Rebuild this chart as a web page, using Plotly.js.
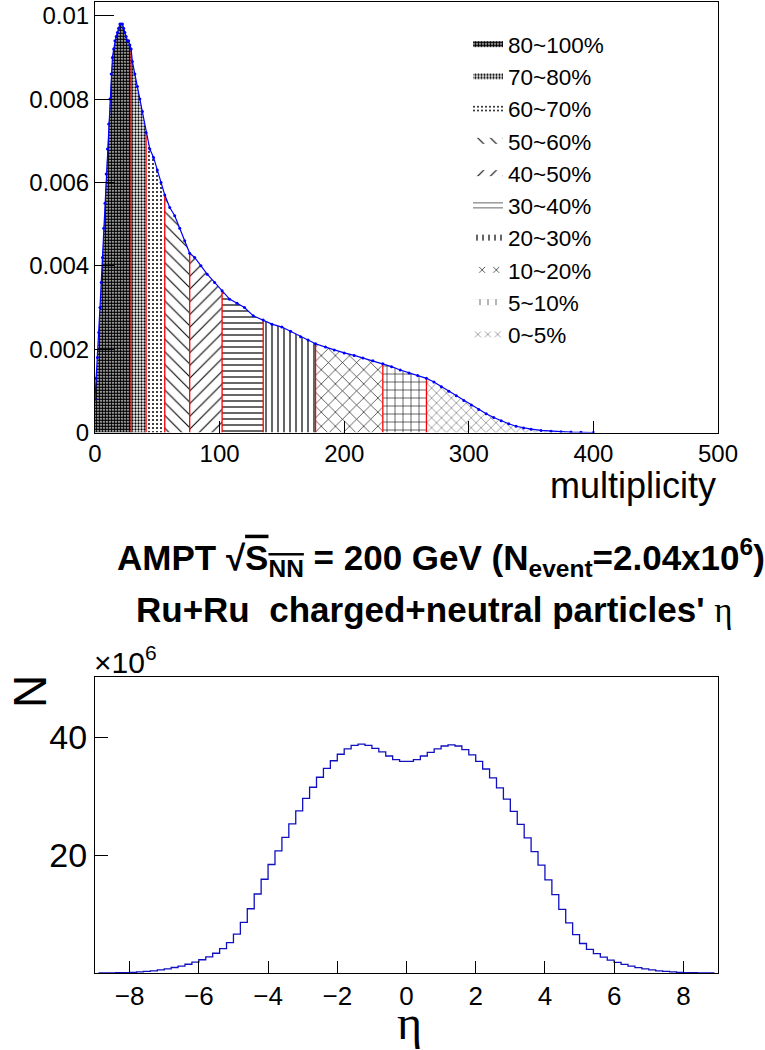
<!DOCTYPE html>
<html>
<head>
<meta charset="utf-8">
<script src="https://cdn.plot.ly/plotly-3.0.1.min.js"></script>
<style>html,body{margin:0;padding:0;background:#fff;}#chart{width:765px;height:1050px;}</style>
</head>
<body>
<div id="chart"></div>
<script>
// ---- Top panel: multiplicity distribution (normalized) ----
const mult = [0,1,2,3,4,5,6,7,8,9,10,11,12,13,14,15,16,17,18,19,20,21,22,23,24,25,26,27,28,29,30,32,34,36,38,41,44,47,50,53,56,60,64,68,72,76,80,85,90,96,102,108,114,120,127,135,142,150,157,165,171,177,185,192,200,208,215,223,231,238,245,252,259,266,272,278,284,290,296,302,308,314,320,326,332,338,344,350,358,366,374,382,390,400];
const dens = [0.0008,0.0013,0.0018,0.0024,0.0030,0.0036,0.0042,0.0049,0.0055,0.0062,0.0068,0.0074,0.0080,0.0086,0.0090,0.0092,0.0094,0.0095,0.0096,0.0097,0.0098,0.0098,0.0098,0.0097,0.0096,0.0095,0.0094,0.0094,0.0093,0.0092,0.0089,0.0086,0.0083,0.0080,0.0077,0.0072,0.0068,0.0066,0.0063,0.0060,0.0057,0.0054,0.0052,0.0049,0.0046,0.0043,0.0042,0.0040,0.0038,0.0036,0.0034,0.0032,0.0031,0.0030,0.0028,0.0027,0.0026,0.00253,0.00243,0.00230,0.00222,0.00213,0.00205,0.00198,0.00191,0.00185,0.00179,0.00172,0.00165,0.00158,0.00150,0.00143,0.00137,0.00130,0.00121,0.00110,0.00099,0.00088,0.00077,0.00066,0.00055,0.00045,0.00036,0.00028,0.00021,0.00015,0.00011,0.00008,0.00005,0.00003,0.00002,0.00001,0.000005,0];
const classLabels = ['80~100%','70~80%','60~70%','50~60%','40~50%','30~40%','20~30%','10~20%','5~10%','0~5%'];
const classEdges = [0,29,41,56,76,102,135,177,231,266,400];
const multTicks = [0,100,200,300,400,500];
const densTicks = [0,0.002,0.004,0.006,0.008,0.01];
const densTickText = ['0','0.002','0.004','0.006','0.008','0.01'];

// ---- Bottom panel: eta distribution (x10^6) ----
const etaCenters = [-8.9,-8.7,-8.5,-8.3,-8.1,-7.9,-7.7,-7.5,-7.3,-7.1,-6.9,-6.7,-6.5,-6.3,-6.1,-5.9,-5.7,-5.5,-5.3,-5.1,-4.9,-4.7,-4.5,-4.3,-4.1,-3.9,-3.7,-3.5,-3.3,-3.1,-2.9,-2.7,-2.5,-2.3,-2.1,-1.9,-1.7,-1.5,-1.3,-1.1,-0.9,-0.7,-0.5,-0.3,-0.1,0.1,0.3,0.5,0.7,0.9,1.1,1.3,1.5,1.7,1.9,2.1,2.3,2.5,2.7,2.9,3.1,3.3,3.5,3.7,3.9,4.1,4.3,4.5,4.7,4.9,5.1,5.3,5.5,5.7,5.9,6.1,6.3,6.5,6.7,6.9,7.1,7.3,7.5,7.7,7.9,8.1,8.3,8.5,8.7,8.9];
const etaCounts = [0.01,0.02,0.03,0.05,0.08,0.12,0.18,0.26,0.37,0.52,0.70,0.93,1.18,1.48,1.83,2.25,2.75,3.35,4.15,5.15,6.6,8.6,10.9,13.4,15.9,18.4,20.7,23.0,25.3,27.5,29.6,31.5,33.2,34.7,36.0,37.1,38.0,38.6,38.8,38.6,38.1,37.5,36.8,36.2,35.9,35.9,36.2,36.8,37.4,38.0,38.5,38.7,38.5,37.9,37.0,35.9,34.6,33.1,31.4,29.5,27.4,25.2,22.9,20.6,18.3,15.8,13.3,10.8,8.5,6.5,5.0,4.0,3.3,2.7,2.2,1.8,1.45,1.16,0.92,0.70,0.52,0.37,0.26,0.18,0.12,0.08,0.05,0.03,0.02,0.01];
const etaTicks = [-8,-6,-4,-2,0,2,4,6,8];
const countTicks = [20,40];

// ---- styles ----
const FONT = 'Liberation Sans, Arial, sans-serif';
const patterns = [
  {shape:'.', size:3, solidity:0.75, bgcolor:'#ffffff'},
  {shape:'.', size:3, solidity:0.45, bgcolor:'#ffffff'},
  {shape:'.', size:4, solidity:0.2, bgcolor:'#ffffff'},
  {shape:'\\', size:9, solidity:0.12, bgcolor:'#ffffff'},
  {shape:'/', size:9, solidity:0.12, bgcolor:'#ffffff'},
  {shape:'-', size:6, solidity:0.2, bgcolor:'#ffffff'},
  {shape:'|', size:6, solidity:0.2, bgcolor:'#ffffff'},
  {shape:'x', size:10, solidity:0.12, bgcolor:'#ffffff'},
  {shape:'+', size:8, solidity:0.14, bgcolor:'#ffffff'},
  {shape:'x', size:7, solidity:0.1, bgcolor:'#ffffff'}
];

const traces = [];
classLabels.forEach((lab, i) => {
  const lo = classEdges[i], hi = classEdges[i+1];
  const xs = [], ys = [];
  mult.forEach((m, k) => { if (m >= lo && m <= hi) { xs.push(m); ys.push(dens[k]); } });
  traces.push({
    type:'scatter', x: xs, y: ys, mode:'none', fill:'tozeroy', name: lab,
    fillcolor:'#ffffff',
    fillpattern: Object.assign({fgcolor:'#000000', fillmode:'replace'}, patterns[i]),
    xaxis:'x', yaxis:'y', hoverinfo:'skip'
  });
});

// red boundary lines
const bx = [], by = [];
classEdges.slice(1, -1).forEach(b => {
  const k = mult.indexOf(b);
  bx.push(b, b, null); by.push(0, dens[k], null);
});
traces.push({type:'scatter', x:bx, y:by, mode:'lines', line:{color:'#ff0000', width:1.3}, showlegend:false, xaxis:'x', yaxis:'y', hoverinfo:'skip'});

// blue histogram outline
traces.push({type:'scatter', x:mult, y:dens, mode:'lines+markers', line:{color:'#0000ff', width:1.2}, marker:{color:'#0000ff', size:3}, showlegend:false, xaxis:'x', yaxis:'y'});

// eta histogram
traces.push({type:'scatter', x:etaCenters, y:etaCounts, mode:'lines', line:{color:'#1010c0', width:1.3, shape:'hvh'}, showlegend:false, xaxis:'x2', yaxis:'y2'});

const W = 765, H = 1050;
const px = v => v / W, py = v => 1 - v / H;

const layout = {
  width: W, height: H,
  margin:{l:0, r:0, t:0, b:0},
  paper_bgcolor:'#ffffff', plot_bgcolor:'#ffffff',
  font:{family: FONT, color:'#000000'},
  showlegend: true,
  legend:{x: px(468), y: py(23), xanchor:'left', yanchor:'top', bgcolor:'rgba(0,0,0,0)', font:{size:22.5, family:FONT}, traceorder:'normal'},
  xaxis:{domain:[px(95), px(718)], range:[0,500], tickvals:multTicks, ticks:'inside', ticklen:12, tickcolor:'#000', showline:true, linecolor:'#000', linewidth:1, mirror:true, showgrid:false, zeroline:false, tickfont:{size:24}, anchor:'y'},
  yaxis:{domain:[py(432.5), py(2)], range:[0,0.01033], tickvals:densTicks, ticktext:densTickText, ticks:'inside', ticklen:19, tickcolor:'#000', showline:true, linecolor:'#000', linewidth:1, mirror:true, showgrid:false, zeroline:false, tickfont:{size:24}, anchor:'x'},
  xaxis2:{domain:[px(95), px(718)], range:[-9,9], tickvals:etaTicks, ticks:'inside', ticklen:12, tickcolor:'#000', showline:true, linecolor:'#000', linewidth:1, mirror:true, showgrid:false, zeroline:false, tickfont:{size:26}, anchor:'y2'},
  yaxis2:{domain:[py(973), py(677)], range:[0,50.2], tickvals:countTicks, ticks:'inside', ticklen:13, tickcolor:'#000', showline:true, linecolor:'#000', linewidth:1, mirror:true, showgrid:false, zeroline:false, tickfont:{size:34}, anchor:'x2'},
  annotations:[
    {xref:'paper', yref:'paper', x:px(718), y:py(485), xanchor:'right', yanchor:'middle', showarrow:false, text:'multiplicity', font:{size:36, family:FONT}},
    {xref:'paper', yref:'paper', x:px(441), y:py(557), xanchor:'center', yanchor:'middle', showarrow:false,
     text:'AMPT √<span style="text-decoration:overline">S<sub>NN</sub></span> = 200 GeV (N<sub>event</sub>=2.04x10<sup>6</sup>)', font:{size:35, family:FONT, weight:'bold'}},
    {xref:'paper', yref:'paper', x:px(434), y:py(610), xanchor:'center', yanchor:'middle', showarrow:false,
     text:'Ru+Ru  charged+neutral particles\' <span style="font-family:Liberation Serif;font-weight:normal">η</span>', font:{size:35, family:FONT, weight:'bold'}},
    {xref:'paper', yref:'paper', x:px(92), y:py(660), xanchor:'left', yanchor:'middle', showarrow:false, text:'×10<sup>6</sup>', font:{size:30, family:FONT}},
    {xref:'paper', yref:'paper', x:px(30), y:py(692), xanchor:'center', yanchor:'middle', showarrow:false, textangle:-90, text:'N', font:{size:46, family:FONT}},
    {xref:'paper', yref:'paper', x:px(409), y:py(1022), xanchor:'center', yanchor:'middle', showarrow:false, text:'η', font:{size:48, family:'Liberation Serif, serif'}}
  ]
};

Plotly.newPlot('chart', traces, layout, {staticPlot:true, displayModeBar:false});
</script>
</body>
</html>
